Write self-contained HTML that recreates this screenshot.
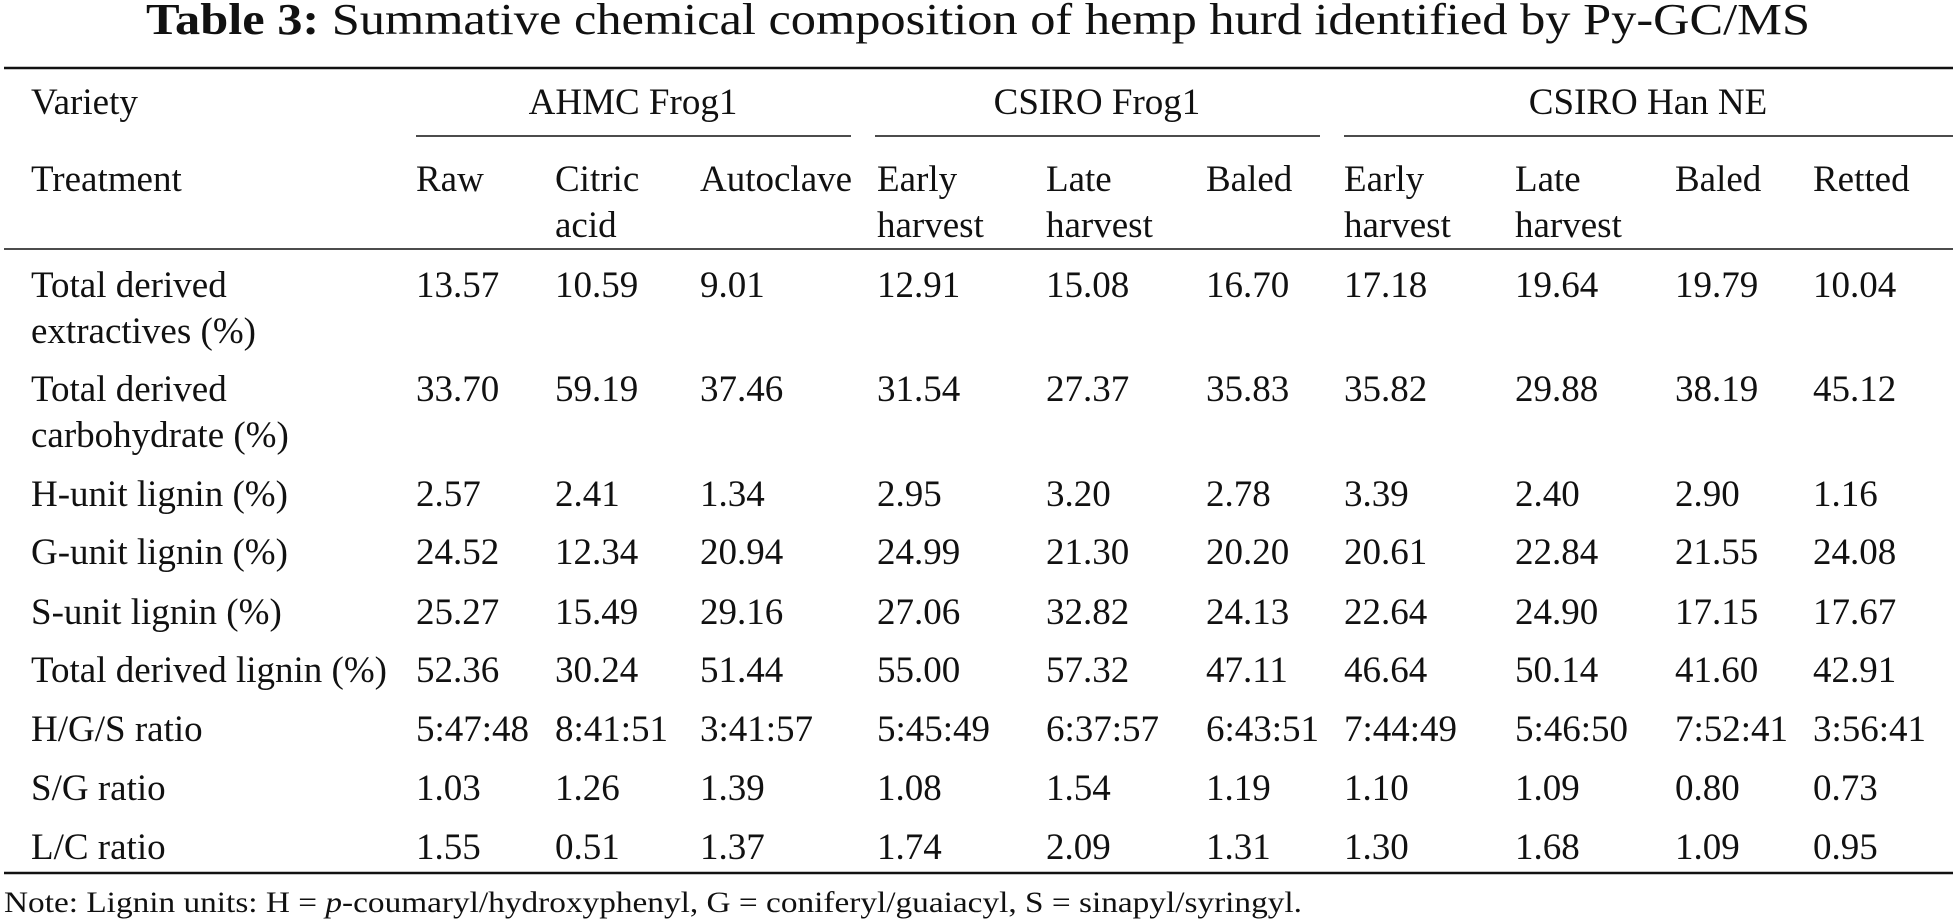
<!DOCTYPE html>
<html><head><meta charset="utf-8"><style>
html,body{margin:0;padding:0;background:#fff;}
svg{display:block;font-family:"Liberation Serif","DejaVu Serif",serif;fill:#111;}
</style></head><body>
<svg id="t" width="1957" height="920" viewBox="0 0 1957 920" xmlns="http://www.w3.org/2000/svg">
<text x="978" y="34" text-anchor="middle" font-size="44" textLength="1664" lengthAdjust="spacingAndGlyphs"><tspan font-weight="bold">Table 3:</tspan>  Summative chemical composition of hemp hurd identified by Py-GC/MS</text>
<line x1="4" y1="68" x2="1953" y2="68" stroke="#111" stroke-width="2.5"/>
<line x1="416" y1="136" x2="851" y2="136" stroke="#111" stroke-width="1.5"/>
<line x1="875" y1="136" x2="1320" y2="136" stroke="#111" stroke-width="1.5"/>
<line x1="1344" y1="136" x2="1953" y2="136" stroke="#111" stroke-width="1.5"/>
<line x1="4" y1="249" x2="1953" y2="249" stroke="#111" stroke-width="1.5"/>
<line x1="4" y1="873" x2="1953" y2="873" stroke="#111" stroke-width="2.5"/>
<text x="4" y="912" font-size="30" textLength="1298" lengthAdjust="spacingAndGlyphs">Note: Lignin units: H = <tspan font-style="italic">p</tspan>-coumaryl/hydroxyphenyl, G = coniferyl/guaiacyl, S = sinapyl/syringyl.</text>
</svg>
<script>
const groups = ["AHMC Frog1","CSIRO Frog1","CSIRO Han NE"];
const treatments = [["Raw"],["Citric","acid"],["Autoclave"],["Early","harvest"],["Late","harvest"],["Baled"],["Early","harvest"],["Late","harvest"],["Baled"],["Retted"]];
const rowLabels = [["Total derived","extractives (%)"],["Total derived","carbohydrate (%)"],["H-unit lignin (%)"],["G-unit lignin (%)"],["S-unit lignin (%)"],["Total derived lignin (%)"],["H/G/S ratio"],["S/G ratio"],["L/C ratio"]];
const extractives = ["13.57","10.59","9.01","12.91","15.08","16.70","17.18","19.64","19.79","10.04"];
const carbohydrate = ["33.70","59.19","37.46","31.54","27.37","35.83","35.82","29.88","38.19","45.12"];
const hUnit = ["2.57","2.41","1.34","2.95","3.20","2.78","3.39","2.40","2.90","1.16"];
const gUnit = ["24.52","12.34","20.94","24.99","21.30","20.20","20.61","22.84","21.55","24.08"];
const sUnit = ["25.27","15.49","29.16","27.06","32.82","24.13","22.64","24.90","17.15","17.67"];
const lignin = ["52.36","30.24","51.44","55.00","57.32","47.11","46.64","50.14","41.60","42.91"];
const hgs = ["5:47:48","8:41:51","3:41:57","5:45:49","6:37:57","6:43:51","7:44:49","5:46:50","7:52:41","3:56:41"];
const sg = ["1.03","1.26","1.39","1.08","1.54","1.19","1.10","1.09","0.80","0.73"];
const lc = ["1.55","0.51","1.37","1.74","2.09","1.31","1.30","1.68","1.09","0.95"];
const rows = [extractives,carbohydrate,hUnit,gUnit,sUnit,lignin,hgs,sg,lc];

const svg = document.getElementById('t');
const NS = 'http://www.w3.org/2000/svg';
const colX = [416,555,700,877,1046,1206,1344,1515,1675,1813];
const groupX = [633,1097,1648];
const rowY = [285,389,494,552,612,670,729,788,847];
const lineGap = 46, FS = 37, BASE = 12;
function txt(x,y,s,anchor){
  const t = document.createElementNS(NS,'text');
  t.setAttribute('x',x); t.setAttribute('y',y); t.setAttribute('font-size',FS);
  if(anchor) t.setAttribute('text-anchor',anchor);
  t.textContent = s; svg.appendChild(t); return t;
}
let e = txt(31,102+BASE,'Variety');


e = txt(31,179+BASE,'Treatment');


groups.forEach((g,i)=>{
  const el = txt(groupX[i],102+BASE,g,'middle');
  
  
});
treatments.forEach((tr,i)=>{
  tr.forEach((s,j)=>{
    const el = txt(colX[i],179+BASE+j*lineGap,s);
    
    
  });
});
rowLabels.forEach((lab,r)=>{
  lab.forEach((s,j)=>{
    const el = txt(31,rowY[r]+BASE+j*lineGap,s);
    
    
  });
  rows[r].forEach((v,i)=>{
    const el = txt(colX[i],rowY[r]+BASE,v);
    
    
  });
});
</script>
</body></html>
